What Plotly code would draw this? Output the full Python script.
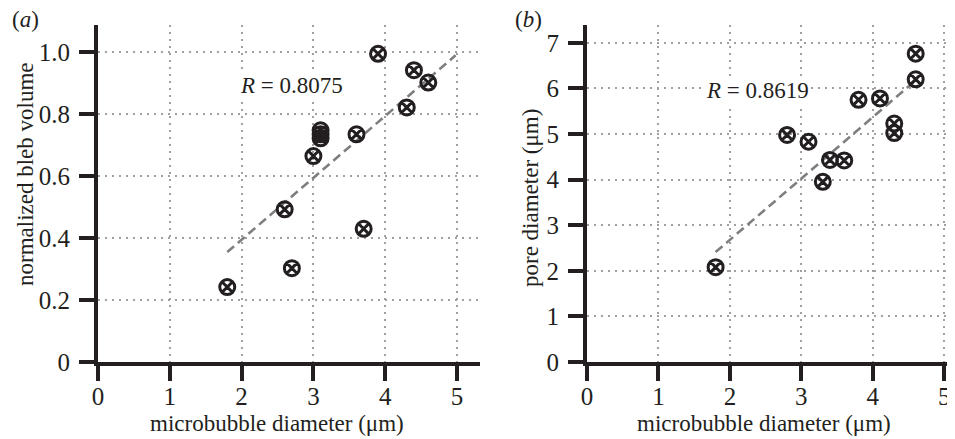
import plotly.graph_objects as go

# Panel (a): normalized bleb volume vs microbubble diameter
a_x = [1.8, 2.6, 2.7, 3.0, 3.1, 3.1, 3.1, 3.6, 3.7, 3.9, 4.3, 4.4, 4.6]
a_y = [0.242, 0.493, 0.303, 0.665, 0.722, 0.735, 0.748, 0.735, 0.43, 0.995, 0.822, 0.942, 0.902]
a_fit_x = [1.8, 4.98]
a_fit_y = [0.355, 0.99]
a_r = "0.8075"

# Panel (b): pore diameter vs microbubble diameter
b_x = [1.8, 2.8, 3.1, 3.3, 3.4, 3.6, 3.8, 4.1, 4.3, 4.3, 4.6, 4.6]
b_y = [2.08, 4.98, 4.83, 3.95, 4.43, 4.42, 5.75, 5.78, 5.23, 5.02, 6.2, 6.76]
b_fit_x = [1.8, 4.58]
b_fit_y = [2.41, 6.15]
b_r = "0.8619"

x_ticks = [0, 1, 2, 3, 4, 5]
a_y_ticks = [0, 0.2, 0.4, 0.6, 0.8, 1.0]
a_y_labels = ["0", "0.2", "0.4", "0.6", "0.8", "1.0"]
b_y_ticks = [0, 1, 2, 3, 4, 5, 6, 7]

FONT = "Liberation Serif"
INK = "#231f20"
W, H = 955, 439
OFF = 8  # page body margin offset


def fx(px):
    return (px - OFF) / W


def fy(py):
    return 1 - (py - OFF) / H


fig = go.Figure()

marker = dict(symbol="circle-x-open", size=15, color=INK, line=dict(width=3, color=INK))
fit_line = dict(color="#7f7f7f", width=2.6, dash="9px,5px")

fig.add_trace(go.Scatter(x=a_fit_x, y=a_fit_y, mode="lines", line=fit_line,
                         xaxis="x", yaxis="y", showlegend=False, hoverinfo="skip"))
fig.add_trace(go.Scatter(x=a_x, y=a_y, mode="markers", marker=marker,
                         xaxis="x", yaxis="y", showlegend=False))
fig.add_trace(go.Scatter(x=b_fit_x, y=b_fit_y, mode="lines", line=fit_line,
                         xaxis="x2", yaxis="y2", showlegend=False, hoverinfo="skip"))
fig.add_trace(go.Scatter(x=b_x, y=b_y, mode="markers", marker=marker,
                         xaxis="x2", yaxis="y2", showlegend=False))

ydom = [fy(362), fy(25)]

axis_common = dict(
    showline=True, linecolor=INK, linewidth=4,
    ticks="outside", ticklen=15, tickwidth=4, tickcolor=INK,
    showgrid=True, gridcolor="#a0a0a0", gridwidth=2, griddash="2px,5px",
    zeroline=False, tickfont=dict(family=FONT, size=25, color=INK),
    fixedrange=True, automargin=False, ticklabeloverflow="allow",
)

fig.update_layout(
    width=W, height=H,
    margin=dict(l=0, r=0, t=0, b=0, autoexpand=False),
    paper_bgcolor="white", plot_bgcolor="white",
    showlegend=False,
    xaxis=dict(domain=[fx(98), fx(480)], range=[0, 5.32], tickvals=x_ticks,
               anchor="y", ticklabelstandoff=-6, **axis_common),
    yaxis=dict(domain=ydom, range=[0, 1.088], tickvals=a_y_ticks, ticktext=a_y_labels,
               anchor="x", ticklabelstandoff=4, **axis_common),
    xaxis2=dict(domain=[fx(587), fx(955)], range=[0, 5.15], tickvals=x_ticks,
                anchor="y2", ticklabelstandoff=-6, **axis_common),
    yaxis2=dict(domain=ydom, range=[0, 7.39], tickvals=b_y_ticks,
                anchor="x2", ticklabelstandoff=4, **axis_common),
)

tf = dict(family=FONT, size=23, color=INK)


def pa(text, px, py, **kw):
    return dict(text=text, x=fx(px), y=fy(py), xref="paper", yref="paper",
                xanchor="center", yanchor="middle", showarrow=False, font=tf, **kw)


ann = [
    pa("(<i>a</i>)", 25, 20),
    pa("(<i>b</i>)", 528, 20),
    pa("microbubble diameter (μm)", 277, 423),
    pa("microbubble diameter (μm)", 764, 423),
    pa("normalized bleb volume", 25, 174, textangle=-90),
    pa("pore diameter (μm)", 530, 198, textangle=-90),
    dict(text="<i>R</i> = " + a_r, x=2.7, y=0.893, xref="x", yref="y",
         xanchor="center", yanchor="middle", showarrow=False, font=tf, bgcolor="white"),
    dict(text="<i>R</i> = " + b_r, x=2.38, y=5.96, xref="x2", yref="y2",
         xanchor="center", yanchor="middle", showarrow=False, font=tf, bgcolor="white"),
]
fig.update_layout(annotations=ann)

fig.write_html("out.html")
